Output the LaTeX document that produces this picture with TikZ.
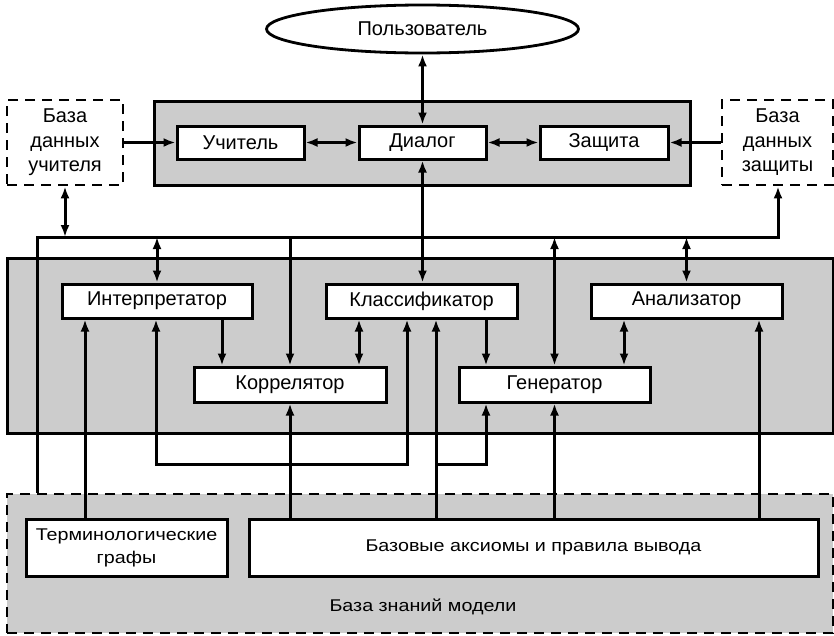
\documentclass[tikz,border=0pt]{standalone}
\usepackage{fontspec}
\setmainfont{Liberation Sans}
\newfontfamily\narrowfont[FakeStretch=1.16]{Liberation Sans}
\usetikzlibrary{arrows.meta,shapes.geometric}
\definecolor{panelgray}{HTML}{CCCCCC}
\begin{document}
\begin{tikzpicture}[x=1pt,y=-1pt,
  every node/.style={inner sep=0pt},
  panel/.style={draw, line width=3pt, fill=panelgray},
  block/.style={draw, line width=3pt, fill=white, align=center,
    font=\fontsize{20}{24}\selectfont},
  lowblock/.style={draw, line width=3pt, fill=white, align=center,
    font=\narrowfont\fontsize{17}{23}\selectfont},
  store/.style={draw, line width=2.8pt, dash pattern=on 10pt off 7pt,
    fill=white, align=center, font=\fontsize{20}{24.5}\selectfont},
  link/.style={line width=3pt},
  arr/.style={link, -{Latex[length=12pt,width=9pt]}},
  both/.style={link, {Latex[length=12pt,width=9pt]}-{Latex[length=12pt,width=9pt]}}
]
\useasboundingbox (0,0) rectangle (834,635);

% top level: user and dialogue panel
\node[draw, ellipse, line width=2.8pt, fill=white, minimum width=312pt, minimum height=48pt,
  font=\fontsize{20}{24}\selectfont] (user) at (422.5,29) {Пользователь};
\node[panel, minimum width=536pt, minimum height=84pt] (toppanel) at (422,143) {};
\node[block, minimum width=127pt, minimum height=33pt] (teacher) at (240.5,142.5) {Учитель};
\node[block, minimum width=127pt, minimum height=33pt] (dialog) at (422.5,142.5) {Диалог};
\node[block, minimum width=128pt, minimum height=33pt] (protect) at (604,142.5) {Защита};
\node[store, minimum width=116pt, minimum height=85pt] (dbT) at (65,142.5) {База\\данных\\учителя};
\node[store, minimum width=111pt, minimum height=85pt] (dbP) at (777.5,142.5) {База\\данных\\защиты};

% processing panel
\node[panel, minimum width=826pt, minimum height=175pt] (midpanel) at (420,345.5) {};
\node[block, minimum width=190pt, minimum height=34pt] (interp) at (157,301) {Интерпретатор};
\node[block, minimum width=191pt, minimum height=34pt] (classif) at (421.5,301) {Классификатор};
\node[block, minimum width=191pt, minimum height=34pt] (analyz) at (686.5,301) {Анализатор};
\node[block, minimum width=192pt, minimum height=35pt] (correl) at (290,384.5) {Коррелятор};
\node[block, minimum width=191pt, minimum height=35pt] (gener) at (554.5,384.5) {Генератор};

% knowledge base
\node[panel, dash pattern=on 10pt off 7pt, line width=2.8pt, minimum width=826pt, minimum height=139pt] (kb) at (420,563.5) {};
\node[lowblock, minimum width=201pt, minimum height=57pt] (term) at (126.5,547.5) {Терминологические\\графы};
\node[lowblock, minimum width=569pt, minimum height=57pt] (axioms) at (533.5,547.5) {Базовые аксиомы и правила вывода};
\node[font=\narrowfont\fontsize{17}{23}\selectfont] (kblabel) at (423,607) {База знаний модели};

% routing points
\coordinate (busL) at (37,237);
\coordinate (busR) at (778,237);
\coordinate (loopY) at (0,464);
\coordinate (xA) at (222,0);
\coordinate (xB) at (359,0);
\coordinate (xC) at (486,0);
\coordinate (xD) at (624,0);
\coordinate (xE) at (156,0);
\coordinate (xF) at (407,0);
\coordinate (xG) at (85,0);
\coordinate (xH) at (436,0);
\coordinate (xI) at (759,0);

% top panel links
\draw[both] (user.south) -- (dialog.north);
\draw[arr] (dbT.east) -- (teacher.west);
\draw[both] (teacher.east) -- (dialog.west);
\draw[both] (dialog.east) -- (protect.west);
\draw[arr] (dbP.west) -- (protect.east);
\draw[both] (dialog.south) -- (dialog.south |- classif.north);

% common bus
\draw[arr] (busL |- kb.north) -- (busL) -- (busR) -- (busR |- dbP.south);
\draw[both] (dbT.south) -- (dbT.south |- busL);
\draw[both] (interp.north |- busL) -- (interp.north);
\draw[arr] (correl.north |- busL) -- (correl.north);
\draw[both] (gener.north |- busL) -- (gener.north);
\draw[both] (analyz.north |- busL) -- (analyz.north);

% links inside the processing panel
\draw[arr] (xA |- interp.south) -- (xA |- correl.north);
\draw[both] (xB |- classif.south) -- (xB |- correl.north);
\draw[arr] (xC |- classif.south) -- (xC |- gener.north);
\draw[both] (xD |- analyz.south) -- (xD |- gener.north);
\draw[both] (xE |- interp.south) -- (xE |- loopY) -- (xF |- loopY) -- (xF |- classif.south);

% links from the knowledge base
\draw[arr] (xG |- term.north) -- (xG |- interp.south);
\draw[arr] (axioms.north -| correl.south) -- (correl.south);
\draw[arr] (xH |- axioms.north) -- (xH |- classif.south);
\draw[arr] (xH |- loopY) -- (xC |- loopY) -- (xC |- gener.south);
\draw[arr] (axioms.north -| gener.south) -- (gener.south);
\draw[arr] (xI |- axioms.north) -- (xI |- analyz.south);
\end{tikzpicture}
\end{document}
